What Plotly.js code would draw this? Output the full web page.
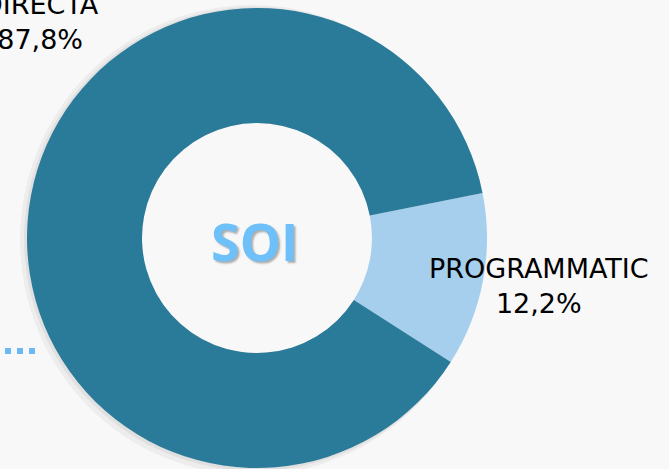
<!DOCTYPE html>
<html><head><meta charset="utf-8">
<script src="https://cdn.plot.ly/plotly-3.0.1.min.js"></script>
<style>html,body{margin:0;padding:0;background:#f8f8f8;}</style>
</head><body>
<div id="chart" style="width:669px;height:469px;"></div>
<script>
const categories = ["PROGRAMMATIC", "DIRECTA"];
const values = [12.2, 87.8];
const valueLabels = ["12,2%", "87,8%"];
const colors = ["#a6cfee", "#2a7a99"];
const centerLabel = "SOI";

const W = 669, H = 469;
const cx = 257, cy = 238, R = 230, r = 115;

const data = [{
  type: "pie",
  labels: categories,
  values: values,
  hole: 0.5,
  sort: false,
  direction: "clockwise",
  rotation: 78.7,
  marker: {colors: colors, line: {width: 0}},
  textinfo: "none",
  hoverinfo: "label+percent",
  showlegend: false,
  domain: {x: [(cx - R) / W, (cx + R) / W], y: [(H - cy - R) / H, (H - cy + R) / H]}
}];

const layout = {
  width: W, height: H,
  margin: {l: 0, r: 0, t: 0, b: 0},
  paper_bgcolor: "#f8f8f8",
  showlegend: false,
  shapes: [
    {type: "circle", xref: "paper", yref: "paper", layer: "below",
     x0: (cx - R - 7) / W, x1: (cx + R - 3) / W, y0: (H - cy - R - 7) / H, y1: (H - cy + R + 3) / H,
     fillcolor: "rgba(0,0,0,0.045)", line: {width: 0}},
    {type: "circle", xref: "paper", yref: "paper", layer: "below",
     x0: (cx - R - 3) / W, x1: (cx + R - 1) / W, y0: (H - cy - R - 3) / H, y1: (H - cy + R + 1) / H,
     fillcolor: "rgba(0,0,0,0.05)", line: {width: 0}},
    {type: "circle", xref: "paper", yref: "paper", layer: "below",
     x0: (cx - r) / W, x1: (cx + r) / W, y0: (H - cy - r) / H, y1: (H - cy + r) / H,
     fillcolor: "#f8f8f8", line: {width: 0}},
    {type: "line", xref: "paper", yref: "paper",
     x0: 5 / W, x1: 36 / W, y0: (H - 351) / H, y1: (H - 351) / H,
     line: {color: "#6cb8f2", width: 6, dash: "dot"}}
  ],
  annotations: [
    {text: "<b>" + centerLabel + "</b>", x: 254 / W, y: (H - 240) / H, xref: "paper", yref: "paper",
     showarrow: false, xanchor: "center", yanchor: "middle",
     font: {family: "Open Sans, Noto Sans, sans-serif", size: 52, color: "#6ec0f8", shadow: "2px 2px 2px rgba(0,0,0,0.3)"}},
    {text: categories[0] + "<br>" + valueLabels[0], x: 539 / W, y: (H - 286) / H, xref: "paper", yref: "paper",
     showarrow: false, xanchor: "center", yanchor: "middle", align: "center",
     font: {family: "DejaVu Sans, Verdana, sans-serif", size: 27, color: "#000000"}},
    {text: categories[1] + "<br>" + valueLabels[1], x: 40 / W, y: (H - 22) / H, xref: "paper", yref: "paper",
     showarrow: false, xanchor: "center", yanchor: "middle", align: "center",
     font: {family: "DejaVu Sans, Verdana, sans-serif", size: 27, color: "#000000"}}
  ]
};

Plotly.newPlot("chart", data, layout, {displayModeBar: false, staticPlot: true});
</script>
</body></html>
